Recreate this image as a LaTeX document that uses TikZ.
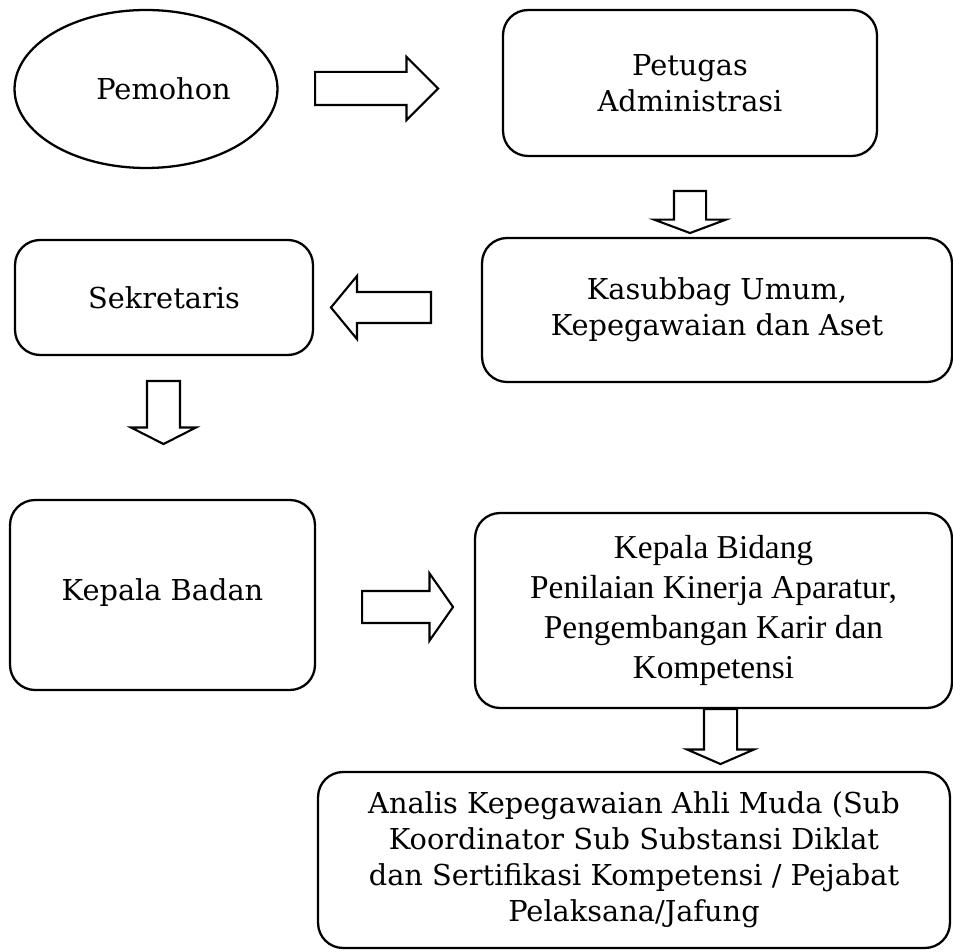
\documentclass[tikz,border=0pt]{standalone}
\usepackage{fontspec}
\setmainfont{DejaVu Serif}
\newfontfamily\timesfont{Liberation Serif}
\usetikzlibrary{shapes.geometric,shapes.arrows}
\newcommand{\bookfont}{\fontsize{16.4}{20.5}\selectfont}
\newcommand{\kabidfont}{\timesfont\fontsize{19}{22.7}\selectfont}
\tikzset{
    box/.style={draw,rounded corners=0.5cm,line width=1.3pt,align=center,inner sep=0pt,font=\bookfont},
    blockarrow/.style={single arrow,draw,line width=1.2pt,inner xsep=0pt,anchor=tail},
}

\begin{document}
\begin{tikzpicture}[x=0.02cm,y=-0.02cm]
            \useasboundingbox (0,0) rectangle (953,952);

            \node[ellipse,draw,line width=1.3pt,minimum width=5.26cm,minimum height=3.16cm,font=\bookfont] (pemohon) at (146,89) {\hspace*{0.7cm}Pemohon};
            \node[box,minimum width=7.48cm,minimum height=2.92cm] (petugas) at (690,83) {Petugas\\Administrasi};
            \node[box,minimum width=9.4cm,minimum height=2.88cm] (kasubbag) at (717,310) {Kasubbag Umum,\\Kepegawaian dan Aset};
            \node[box,minimum width=5.96cm,minimum height=2.3cm] (sekretaris) at (164,297.5) {Sekretaris};
            \node[box,minimum width=6.1cm,minimum height=3.8cm] (kaban) at (162.5,595) {\raisebox{0.2cm}{Kepala Badan}};
            \node[box,minimum width=9.54cm,minimum height=3.9cm,font=\kabidfont] (kabid) at (713.5,610.5) {Kepala Bidang\\Penilaian Kinerja Aparatur,\\Pengembangan Karir dan\\Kompetensi};
            \node[box,minimum width=12.64cm,minimum height=3.52cm] (analis) at (634,860) {Analis Kepegawaian Ahli Muda (Sub\\Koordinator Sub Substansi Diklat\\dan Sertifikasi Kompetensi / Pejabat\\Pelaksana/Jafung};

            \node[blockarrow,inner ysep=0.31cm,minimum height=2.46cm,single arrow head extend=0.3cm,single arrow tip angle=90] (a1) at (314,88.5) {};
            \node[blockarrow,rotate=-90,inner ysep=0.3cm,minimum height=0.84cm,single arrow head extend=0.4cm,single arrow tip angle=139] (a2) at (690,190) {};
            \node[blockarrow,rotate=180,inner ysep=0.29cm,minimum height=2cm,single arrow head extend=0.32cm,single arrow tip angle=101] (a3) at (432,307.5) {};
            \node[blockarrow,rotate=-90,inner ysep=0.31cm,minimum height=1.26cm,single arrow head extend=0.32cm,single arrow tip angle=126] (a4) at (163.5,380) {};
            \node[blockarrow,inner ysep=0.3cm,minimum height=1.82cm,single arrow head extend=0.35cm,single arrow tip angle=110] (a5) at (361,607) {};
            \node[blockarrow,rotate=-90,inner ysep=0.31cm,minimum height=1.1cm,single arrow head extend=0.34cm,single arrow tip angle=133] (a6) at (720.5,708) {};
\end{tikzpicture}
\end{document}
